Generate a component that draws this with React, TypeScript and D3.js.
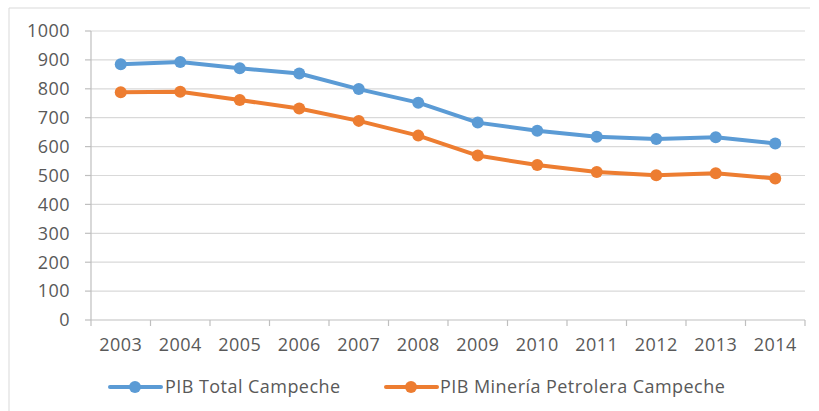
import React from "react";
import * as d3 from "d3";

const years = ["2003","2004","2005","2006","2007","2008","2009","2010","2011","2012","2013","2014"];
const pibTotal = [885, 893, 871, 853, 799, 752, 683, 655, 634, 626, 632, 611];
const pibMineria = [788, 790, 761, 732, 689, 638, 569, 536, 512, 501, 508, 490];
const yTicks = [0,100,200,300,400,500,600,700,800,900,1000];
const seriesNames = ["PIB Total Campeche", "PIB Minería Petrolera Campeche"];
const colors = ["#5B9BD5", "#ED7D31"];

export default function App() {
  const W = 819, H = 411;
  const left = 91, right = 805, top = 31, bottom = 320;
  const x = d3.scaleBand().domain(years).range([left, right]);
  const y = d3.scaleLinear().domain([0, 1000]).range([bottom, top]);
  const line = d3.line<number>().x((_, i) => (x(years[i]) as number) + x.bandwidth() / 2).y(d => y(d));
  const font = "'Open Sans', sans-serif";
  const txt = "#595959";
  const fs = 18;
  const ls = 0.45;
  const series = [pibTotal, pibMineria];
  const legend = [{ lx: 110, tx: 165 }, { lx: 386, tx: 440 }];
  return (
    <svg width={W} height={H} style={{ position: "absolute", left: 0, top: 0 }}>
      <rect x={0} y={0} width={W} height={H} fill="#fff" />
      <line x1={9} y1={8} x2={810} y2={8} stroke="#D9D9D9" />
      <line x1={9} y1={8} x2={9} y2={H} stroke="#D9D9D9" />
      {yTicks.map(t => (
        <g key={t}>
          {t > 0 && <line x1={left} x2={right} y1={y(t)} y2={y(t)} stroke="#D9D9D9" strokeWidth={1.2} />}
          <line x1={left - 6} x2={left} y1={y(t)} y2={y(t)} stroke="#BFBFBF" strokeWidth={1.2} />
          <text x={70} y={y(t)} dy="0.35em" textAnchor="end" fontFamily={font} fontSize={fs} fill={txt} letterSpacing={ls}>{t}</text>
        </g>
      ))}
      <line x1={left} x2={left} y1={top} y2={bottom + 6} stroke="#BFBFBF" strokeWidth={1.2} />
      <line x1={left} x2={right} y1={bottom} y2={bottom} stroke="#BFBFBF" strokeWidth={1.2} />
      {years.map((yr) => (
        <g key={yr}>
          <line x1={(x(yr) as number) + x.bandwidth()} x2={(x(yr) as number) + x.bandwidth()} y1={bottom} y2={bottom + 6} stroke="#BFBFBF" strokeWidth={1.2} />
          <text x={(x(yr) as number) + x.bandwidth() / 2} y={345} dy="0.35em" textAnchor="middle" fontFamily={font} fontSize={fs} fill={txt} letterSpacing={ls}>{yr}</text>
        </g>
      ))}
      {series.map((s, si) => (
        <g key={si}>
          <path d={line(s) as string} fill="none" stroke={colors[si]} strokeWidth={4} strokeLinejoin="round" />
          {s.map((v, i) => (
            <circle key={i} cx={(x(years[i]) as number) + x.bandwidth() / 2} cy={y(v)} r={6} fill={colors[si]} />
          ))}
        </g>
      ))}
      {legend.map((l, i) => (
        <g key={i}>
          <line x1={l.lx} x2={l.lx + 51} y1={387} y2={387} stroke={colors[i]} strokeWidth={4} strokeLinecap="round" />
          <circle cx={l.lx + 25} cy={387} r={6} fill={colors[i]} />
          <text x={l.tx} y={387} dy="0.35em" fontFamily={font} fontSize={fs} fill={txt} letterSpacing={ls}>{seriesNames[i]}</text>
        </g>
      ))}
    </svg>
  );
}
